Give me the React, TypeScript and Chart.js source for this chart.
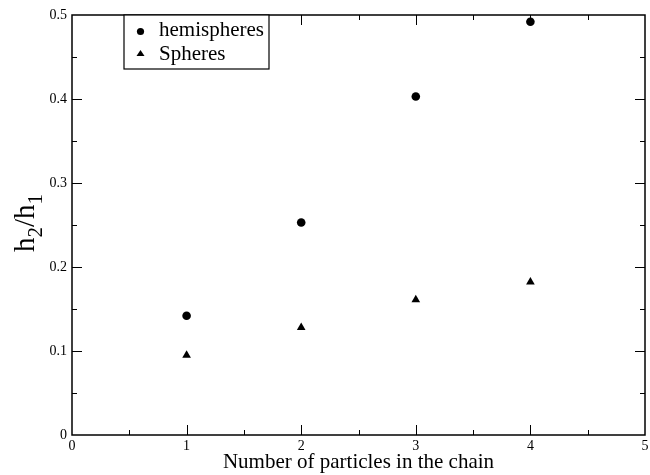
import React, { useEffect, useRef } from "react";
import { Chart, registerables } from "chart.js";

Chart.register(...registerables);

const xValues = [1, 2, 3, 4];
const hemispheres = [0.142, 0.253, 0.403, 0.492];
const spheres = [0.095, 0.128, 0.161, 0.182];
const seriesNames = ["hemispheres", "Spheres"];
const xTicks = [0, 1, 2, 3, 4, 5];
const yTicks = [0, 0.1, 0.2, 0.3, 0.4, 0.5];
const xMinorStep = 0.5;
const yMinorStep = 0.05;
const xTitle = "Number of particles in the chain";
const yTitleParts = [
  { t: "h", sub: false },
  { t: "2", sub: true },
  { t: "/", sub: false },
  { t: "h", sub: false },
  { t: "1", sub: true },
];

const FONT = "'Liberation Serif', 'Times New Roman', serif";

const decorPlugin = {
  id: "decor",
  afterDatasetsDraw(chart: any) {
    const { ctx, chartArea: a, scales } = chart;
    const x = scales.x;
    const y = scales.y;
    ctx.save();
    ctx.strokeStyle = "#000";
    // ticks (inside, mirrored)
    ctx.lineWidth = 1;
    const line = (x1: number, y1: number, x2: number, y2: number) => {
      ctx.beginPath();
      ctx.moveTo(x1, y1);
      ctx.lineTo(x2, y2);
      ctx.stroke();
    };
    const nx = Math.round((x.max - x.min) / xMinorStep);
    for (let i = 1; i < nx; i++) {
      const v = x.min + i * xMinorStep;
      const px = Math.round(x.getPixelForValue(v)) + 0.5;
      const len = i % 2 === 0 ? 10 : 5;
      line(px, a.bottom, px, a.bottom - len);
      line(px, a.top, px, a.top + len);
    }
    const ny = Math.round((y.max - y.min) / yMinorStep);
    for (let i = 1; i < ny; i++) {
      const v = y.min + i * yMinorStep;
      const py = Math.round(y.getPixelForValue(v)) + 0.5;
      const len = i % 2 === 0 ? 10 : 5;
      line(a.left, py, a.left + len, py);
      line(a.right, py, a.right - len, py);
    }
    // frame
    ctx.lineWidth = 1.5;
    ctx.strokeRect(a.left, a.top, a.right - a.left, a.bottom - a.top);

    // legend box
    const lx = a.left + 52;
    const ly = a.top;
    const lw = 145;
    const lh = 54;
    ctx.fillStyle = "#fff";
    ctx.fillRect(lx, ly, lw, lh);
    ctx.lineWidth = 1.2;
    ctx.strokeRect(lx, ly, lw, lh);
    ctx.fillStyle = "#000";
    // circle marker
    ctx.beginPath();
    ctx.arc(lx + 16.5, ly + 16.5, 3.6, 0, Math.PI * 2);
    ctx.fill();
    // triangle marker
    const tx = lx + 16.5;
    const ty = ly + 38.5;
    ctx.beginPath();
    ctx.moveTo(tx, ty - 3.5);
    ctx.lineTo(tx + 4, ty + 2.5);
    ctx.lineTo(tx - 4, ty + 2.5);
    ctx.closePath();
    ctx.fill();
    ctx.font = `21px ${FONT}`;
    ctx.textAlign = "left";
    ctx.textBaseline = "alphabetic";
    ctx.fillText(chart.data.datasets[0].label, lx + 35, ly + 20.5);
    ctx.fillText(chart.data.datasets[1].label, lx + 35, ly + 44.5);

    // y title with subscripts
    const mainF = `29px ${FONT}`;
    const subF = `21px ${FONT}`;
    let total = 0;
    const widths = yTitleParts.map((p) => {
      ctx.font = p.sub ? subF : mainF;
      const w = ctx.measureText(p.t).width;
      total += w;
      return w;
    });
    ctx.translate(34, (a.top + a.bottom) / 2 - 2);
    ctx.rotate(-Math.PI / 2);
    let cx = -total / 2;
    yTitleParts.forEach((p, i) => {
      ctx.font = p.sub ? subF : mainF;
      ctx.fillText(p.t, cx, p.sub ? 8 : 0);
      cx += widths[i];
    });
    ctx.restore();
  },
};

export default function App() {
  const ref = useRef<HTMLCanvasElement | null>(null);
  useEffect(() => {
    if (!ref.current) return;
    Chart.defaults.font.family = FONT;
    const chart = new Chart(ref.current, {
      type: "scatter",
      data: {
        datasets: [
          {
            label: seriesNames[0],
            data: xValues.map((v, i) => ({ x: v, y: hemispheres[i] })),
            pointStyle: "circle",
            pointRadius: 4.3,
            backgroundColor: "#000",
            borderColor: "#000",
            borderWidth: 0,
          },
          {
            label: seriesNames[1],
            data: xValues.map((v, i) => ({ x: v, y: spheres[i] })),
            pointStyle: "triangle",
            pointRadius: 5,
            backgroundColor: "#000",
            borderColor: "#000",
            borderWidth: 0,
          },
        ],
      },
      options: {
        responsive: false,
        animation: false,
        events: [],
        layout: { padding: { top: 15, right: 4, left: 0, bottom: 0 } },
        plugins: { legend: { display: false }, tooltip: { enabled: false } },
        scales: {
          x: {
            type: "linear",
            min: 0,
            max: 5,
            grid: { display: false, drawTicks: false },
            border: { display: false },
            ticks: {
              padding: 3,
              color: "#000",
              font: { size: 14 },
              maxRotation: 0,
              autoSkip: false,
              callback: (v: any) => String(v),
            },
            afterBuildTicks: (s: any) => {
              s.ticks = xTicks.map((v) => ({ value: v }));
            },
            afterFit: (s: any) => {
              s.height = 40;
              s.paddingLeft = 0;
              s.paddingRight = 0;
            },
            title: {
              display: true,
              text: xTitle,
              color: "#000",
              font: { size: 21 },
              padding: 0,
            },
          },
          y: {
            type: "linear",
            min: 0,
            max: 0.5,
            grid: { display: false, drawTicks: false },
            border: { display: false },
            ticks: {
              padding: 5,
              color: "#000",
              font: { size: 14 },
              autoSkip: false,
              callback: (v: any) => String(v),
            },
            afterBuildTicks: (s: any) => {
              s.ticks = yTicks.map((v) => ({ value: v }));
            },
            afterFit: (s: any) => {
              s.width = 72;
              s.paddingTop = 0;
              s.paddingBottom = 0;
            },
          },
        },
      },
      plugins: [decorPlugin],
    } as any);
    return () => chart.destroy();
  }, []);
  return (
    <div style={{ position: "absolute", left: 0, top: 0, width: 650, height: 475 }}>
      <canvas ref={ref} width={650} height={475} style={{ display: "block" }} />
    </div>
  );
}
